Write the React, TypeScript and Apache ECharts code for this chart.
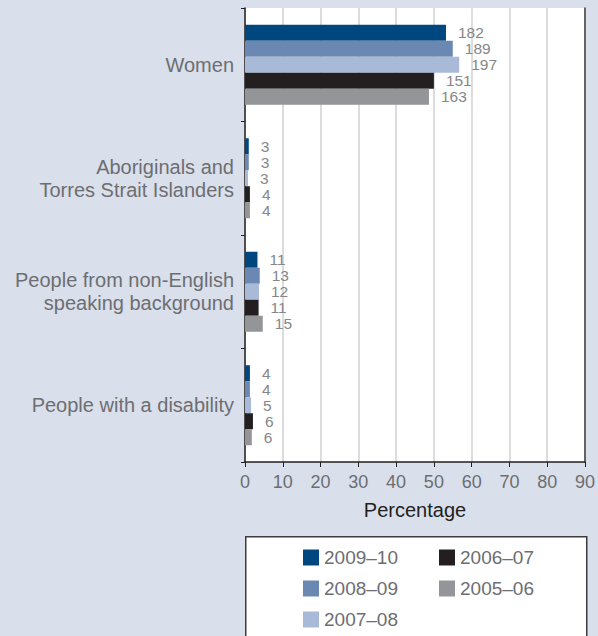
import React, { useEffect, useRef } from "react";
import * as echarts from "echarts";

const categories = [
  "Women",
  "Aboriginals and\nTorres Strait Islanders",
  "People from non-English\nspeaking background",
  "People with a disability",
];
const seriesNames = ["2009–10", "2008–09", "2007–08", "2006–07", "2005–06"];
const seriesColors = ["#00467f", "#6a88b2", "#a9bad8", "#231f20", "#939598"];
// percentage values (bar lengths)
const pct2009 = [53.2, 1.0, 3.3, 1.3];
const pct2008 = [55.0, 1.0, 3.9, 1.3];
const pct2007 = [56.7, 0.8, 3.7, 1.6];
const pct2006 = [50.0, 1.3, 3.6, 2.1];
const pct2005 = [48.7, 1.3, 4.7, 1.8];
// counts (labels)
const cnt2009 = [182, 3, 11, 4];
const cnt2008 = [189, 3, 13, 4];
const cnt2007 = [197, 3, 12, 5];
const cnt2006 = [151, 4, 11, 6];
const cnt2005 = [163, 4, 15, 6];
const xTicks = [0, 10, 20, 30, 40, 50, 60, 70, 80, 90];

const pctData = [pct2009, pct2008, pct2007, pct2006, pct2005];
const cntData = [cnt2009, cnt2008, cnt2007, cnt2006, cnt2005];

const FONT = "Liberation Sans";

export default function App() {
  const ref = useRef<HTMLDivElement>(null);
  useEffect(() => {
    if (!ref.current) return;
    const chart = echarts.init(ref.current, null, { renderer: "svg" });
    const legendText = { fontSize: 19, color: "#6d6e71", fontFamily: FONT };
    chart.setOption({
      animation: false,
      backgroundColor: "#d9dfeb",
      textStyle: { fontFamily: FONT },
      grid: { left: 245, right: 12, top: 8, bottom: 174, show: true, backgroundColor: "#ffffff", borderWidth: 0 },
      xAxis: {
        type: "value",
        min: xTicks[0],
        max: xTicks[xTicks.length - 1],
        interval: 10,
        name: "Percentage",
        nameLocation: "middle",
        nameGap: 38,
        nameTextStyle: { fontSize: 20, color: "#231f20", fontFamily: FONT },
        axisLine: { show: true, lineStyle: { color: "#231f20", width: 1.5 } },
        axisTick: { show: true, length: 5, lineStyle: { color: "#231f20" } },
        axisLabel: { fontSize: 18, color: "#6d6e71", margin: 11, fontFamily: FONT },
        splitLine: { show: true, lineStyle: { color: "#dcdcdc", width: 2 } },
      },
      yAxis: [
        {
          type: "category",
          data: categories,
          inverse: true,
          axisLine: { show: true, lineStyle: { color: "#231f20", width: 1.5 } },
          axisTick: { show: true, length: 4, lineStyle: { color: "#231f20" } },
          axisLabel: { fontSize: 20, color: "#6d6e71", margin: 11, lineHeight: 23, fontFamily: FONT },
          splitLine: { show: false },
        },
        {
          type: "category",
          data: categories,
          inverse: true,
          position: "right",
          axisLine: { show: true, lineStyle: { color: "#3c3c3c", width: 1.5 } },
          axisTick: { show: false },
          axisLabel: { show: false },
        },
      ],
      legend: [
        {
          data: seriesNames.slice(0, 3),
          orient: "vertical",
          left: 298,
          top: 543,
          itemWidth: 16,
          itemHeight: 16,
          itemGap: 12,
          icon: "rect",
          textStyle: legendText,
        },
        {
          data: seriesNames.slice(3),
          orient: "vertical",
          left: 434,
          top: 543,
          itemWidth: 16,
          itemHeight: 16,
          itemGap: 12,
          icon: "rect",
          textStyle: legendText,
        },
      ],
      graphic: [
        {
          type: "rect",
          left: 245,
          top: 536,
          shape: { width: 341, height: 120 },
          style: { fill: "#ffffff", stroke: "#3c3c3c", lineWidth: 1.5 },
          z: -1,
        },
      ],
      series: seriesNames.map((name, i) => ({
        name,
        type: "bar",
        data: pctData[i],
        barWidth: 16,
        barGap: "0%",
        itemStyle: { color: seriesColors[i] },
        label: {
          show: true,
          position: "right",
          distance: 12,
          fontSize: 15.5,
          color: "#858789",
          fontFamily: FONT,
          formatter: (p: any) => String(cntData[i][p.dataIndex]),
        },
      })),
    });
    return () => chart.dispose();
  }, []);
  return <div ref={ref} style={{ position: "fixed", left: 0, top: 0, width: 598, height: 636 }} />;
}
